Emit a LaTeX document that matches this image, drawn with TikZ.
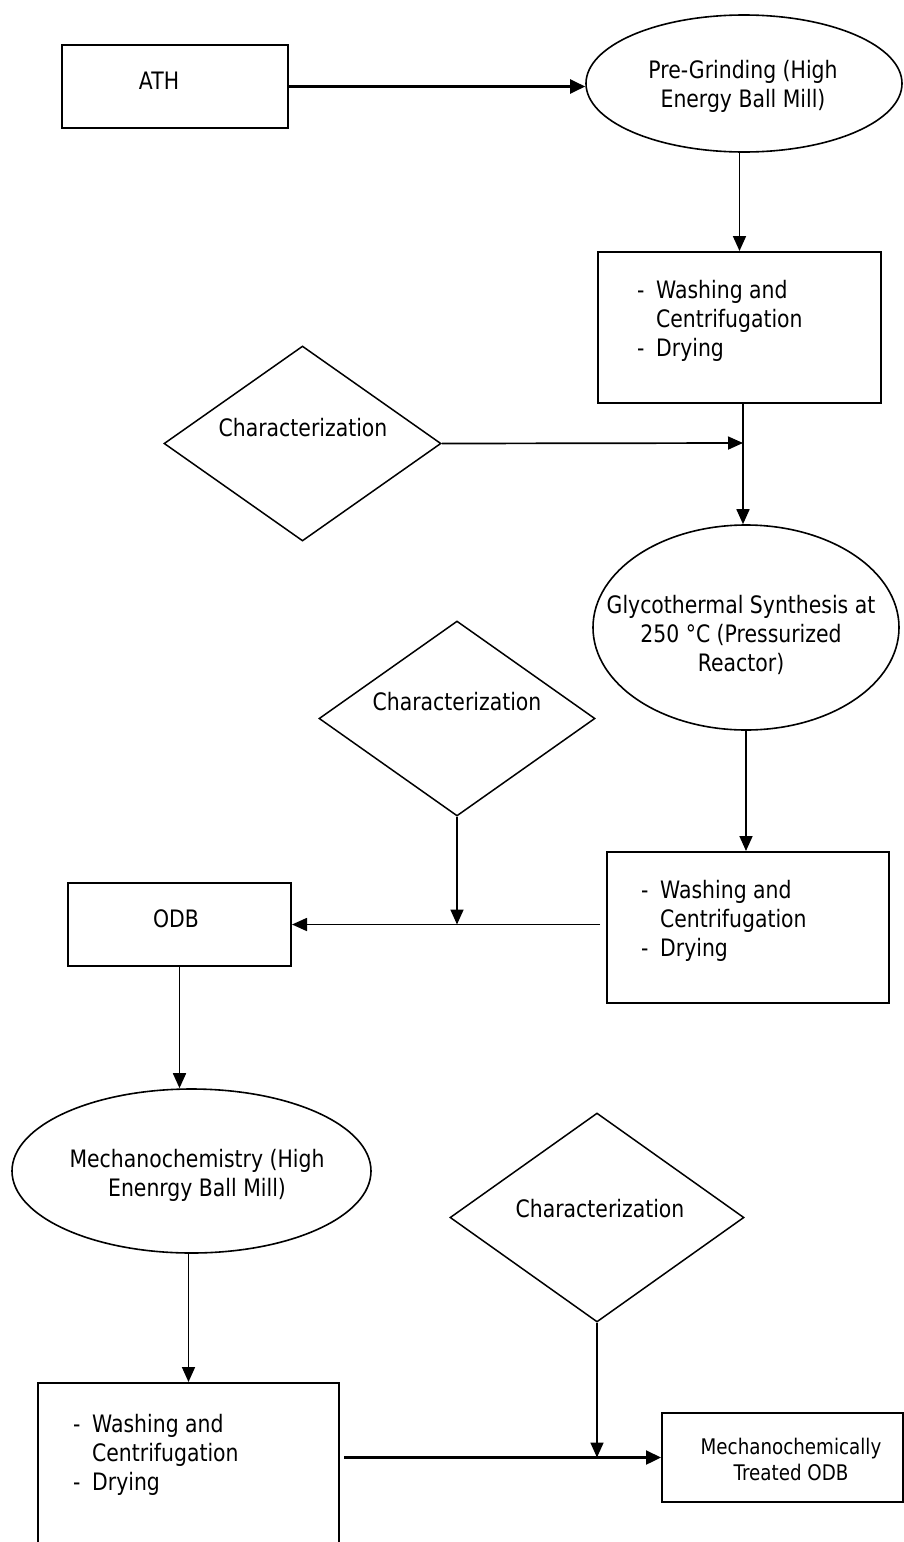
\documentclass[tikz,border=0pt]{standalone}
\usepackage{fontspec}
\setmainfont{DejaVu Sans}[FakeStretch=0.85]
\usetikzlibrary{shapes.geometric,arrows.meta,calc}
\newcommand\lnsc[1]{\begin{tabular}[t]{@{}c@{}}#1\end{tabular}}
\newcommand\lnsl[1]{\begin{tabular}[t]{@{}l@{}}#1\end{tabular}}
\newcommand\dashit{\makebox[19pt][l]{-}}
\begin{document}
\begin{tikzpicture}[x=1pt,y=-1pt,
  boxs/.style={draw, rectangle, line width=2pt, inner sep=0pt},
  ells/.style={draw, ellipse, line width=1.6pt, inner sep=0pt},
  dias/.style={draw, diamond, line width=1.5pt, inner sep=0pt},
  txt/.style={inner sep=0pt, anchor=base, font=\fontsize{24}{29}\selectfont},
  txtl/.style={inner sep=0pt, anchor=base west, font=\fontsize{24}{29}\selectfont},
  txts/.style={inner sep=0pt, anchor=base, font=\fontsize{21.5}{26}\selectfont},
  arr/.style={-{Triangle[length=15pt,width=13pt]}, line width=1.7pt},
  arrb/.style={-{Triangle[length=15pt,width=14pt]}, line width=2.3pt}]
\useasboundingbox (0,0) rectangle (904,1542);
\fill[white] (0,0) rectangle (904,1542);
% shapes
\node[boxs, minimum width=226pt, minimum height=83pt] (ath) at (175,86.5) {};
\node[ells, minimum width=316pt, minimum height=137pt] (pg) at (744,83.5) {};
\node[boxs, minimum width=283pt, minimum height=151pt] (w1) at (739.5,327.5) {};
\node[dias, minimum width=277pt, minimum height=195pt] (d1) at (302.5,443.5) {};
\node[ells, minimum width=306pt, minimum height=205pt] (gly) at (746,627.5) {};
\node[dias, minimum width=276pt, minimum height=195pt] (d2) at (457,718.5) {};
\node[boxs, minimum width=282pt, minimum height=151pt] (w2) at (748,927.5) {};
\node[boxs, minimum width=223pt, minimum height=83pt] (odb) at (179.5,924.5) {};
\node[ells, minimum width=359pt, minimum height=164pt] (mc) at (191.5,1171) {};
\node[boxs, minimum width=301pt, minimum height=200pt] (w3) at (188.5,1483) {};
\node[dias, minimum width=294pt, minimum height=209pt] (d3) at (597,1217.5) {};
\node[boxs, minimum width=241pt, minimum height=89pt] (mt) at (782.5,1457.5) {};
% texts
\node[txt] (tath) at (159,89) {ATH};
\node[txt] (tpg) at (743,78) {\lnsc{Pre-Grinding (High\\Energy Ball Mill)}};
\node[txtl] (tw1) at (637,298) {\lnsl{\dashit Washing and\\\hspace*{19pt}Centrifugation\\\dashit Drying}};
\node[txt] (td1) at (303,436) {Characterization};
\node[txt] (tgly) at (741,613) {\lnsc{Glycothermal Synthesis at\\250 °C (Pressurized\\Reactor)}};
\node[txt] (td2) at (457,710) {Characterization};
\node[txtl] (tw2) at (641,898) {\lnsl{\dashit Washing and\\\hspace*{19pt}Centrifugation\\\dashit Drying}};
\node[txt] (todb) at (176,927) {ODB};
\node[txt] (tmc) at (197,1167) {\lnsc{Mechanochemistry (High\\Enenrgy Ball Mill)}};
\node[txtl] (tw3) at (73,1432) {\lnsl{\dashit Washing and\\\hspace*{19pt}Centrifugation\\\dashit Drying}};
\node[txt] (td3) at (600,1217) {Characterization};
\node[txts] (tmt) at (791,1454) {\lnsc{Mechanochemically\\Treated ODB}};
% junctions
\coordinate (j1) at (743,443);
\coordinate (j2) at (d2.south |- odb.east);
\coordinate (j3) at (d3.south |- mt.west);
% connectors
\draw[arrb] (ath.east) -- (ath.east -| pg.west);
\draw[arr] (w1.north |- pg.south) -- (w1.north);
\draw[line width=1.7pt] (w1.south -| j1) -- (j1);
\draw[arr] (j1) -- (j1 |- gly.north);
\draw[arr] (d1.east) -- (j1);
\draw[arr] (gly.south) -- (gly.south |- w2.north);
\draw[arr] ([xshift=-6pt]w2.west |- odb.east) -- (odb.east);
\draw[arr] (d2.south) -- (j2);
\draw[arr] (odb.south) -- (odb.south |- mc.north);
\draw[arr] (mc.south -| w3.north) -- (w3.north);
\draw[arrb] ([xshift=4pt]w3.east |- mt.west) -- (mt.west);
\draw[arr] (d3.south) -- (j3);
\end{tikzpicture}
\end{document}
